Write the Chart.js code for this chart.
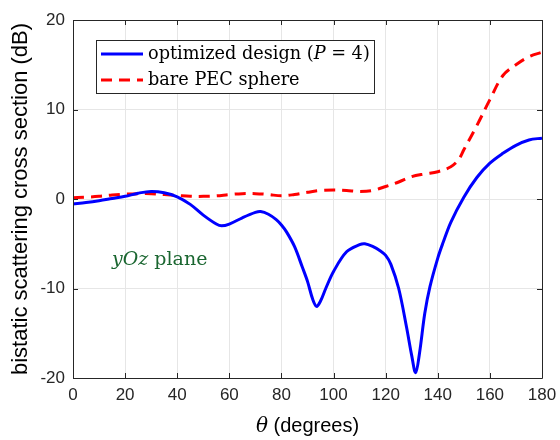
<!DOCTYPE html>
<html>
<head>
<meta charset="utf-8">
<script src="https://cdn.jsdelivr.net/npm/chart.js@4"></script>
<style>
  html, body { margin: 0; padding: 0; background: #ffffff; }
  #wrap { width: 560px; height: 440px; }
</style>
</head>
<body>
<div id="wrap"><canvas id="c" width="560" height="440"></canvas></div>
<script>
// ---- data ----
const thetaOptimized = [0,5,10,15,20,25,30,35,40,45,50,55,57,60,65,70,72,75,78,80,82,85,88,90,92,93.5,95,97,100,105,110,112,115,118,120,122,125,128,130,131.5,133,135,137,140,142,145,150,155,160,165,170,175,180];
const optimizedDesign = [-0.55,-0.4,-0.2,0.05,0.3,0.65,0.85,0.7,0.25,-0.6,-1.8,-2.8,-3.0,-2.8,-2.1,-1.5,-1.4,-1.7,-2.3,-2.9,-3.7,-5.3,-7.6,-9.2,-11.2,-12.0,-11.4,-10.0,-8.1,-5.9,-5.1,-5.0,-5.3,-5.8,-6.3,-7.3,-10.0,-14.3,-17.5,-19.4,-17.2,-12.8,-9.8,-6.6,-4.9,-2.6,0.2,2.4,4.0,5.1,6.0,6.6,6.8];
const thetaBare = [0,5,10,15,20,25,30,35,40,45,50,55,60,65,70,75,80,85,90,95,100,105,110,115,120,125,130,135,140,145,148,150,155,160,165,170,175,180];
const bareSphere = [0.15,0.2,0.3,0.45,0.55,0.6,0.6,0.5,0.4,0.3,0.3,0.35,0.5,0.6,0.6,0.5,0.35,0.5,0.75,0.95,1.0,0.95,0.85,0.95,1.4,1.9,2.5,2.8,3.05,3.6,4.4,5.5,8.2,11.1,13.8,15.0,15.9,16.4];
const xTicks = [0,20,40,60,80,100,120,140,160,180];
const yTicks = [-20,-10,0,10,20];
const seriesLabels = ['optimized design (P = 4)', 'bare PEC sphere'];
const annotationText = ['yOz', ' plane'];

const toXY = (xs, ys) => xs.map((x, i) => ({ x: x, y: ys[i] }));

const AX = '#262626';
const SANS = '"Liberation Sans", Arial, sans-serif';
const SERIF = '"DejaVu Serif", "Liberation Serif", serif';

const boxPlugin = {
  id: 'boxPlugin',
  afterDatasetsDraw(chart) {
    const { ctx, chartArea: a, scales } = chart;
    ctx.save();
    ctx.strokeStyle = AX;
    ctx.lineWidth = 1;
    ctx.beginPath();
    ctx.rect(Math.round(a.left) + 0.5, Math.round(a.top) + 0.5, Math.round(a.right - a.left), Math.round(a.bottom - a.top));
    ctx.stroke();
    // inner ticks
    const tl = 5;
    ctx.beginPath();
    xTicks.forEach(v => {
      const px = Math.round(scales.x.getPixelForValue(v)) + 0.5;
      ctx.moveTo(px, a.bottom); ctx.lineTo(px, a.bottom - tl);
      ctx.moveTo(px, a.top); ctx.lineTo(px, a.top + tl);
    });
    yTicks.forEach(v => {
      const py = Math.round(scales.y.getPixelForValue(v)) + 0.5;
      ctx.moveTo(a.left, py); ctx.lineTo(a.left + tl, py);
      ctx.moveTo(a.right, py); ctx.lineTo(a.right - tl, py);
    });
    ctx.stroke();

    // legend box
    const lx = 96.5, ly = 40.5, lw = 278, lh = 53;
    ctx.fillStyle = '#ffffff';
    ctx.fillRect(lx, ly, lw, lh);
    ctx.strokeStyle = AX;
    ctx.strokeRect(lx, ly, lw, lh);
    const ds = chart.data.datasets;
    const rows = [54, 80];
    ds.forEach((d, i) => {
      ctx.strokeStyle = d.borderColor;
      ctx.lineWidth = 3;
      ctx.setLineDash(d.borderDash || []);
      ctx.beginPath();
      ctx.moveTo(101, rows[i]); ctx.lineTo(143, rows[i]);
      ctx.stroke();
      ctx.setLineDash([]);
    });
    ctx.fillStyle = '#000000';
    ctx.textBaseline = 'middle';
    ctx.textAlign = 'left';
    const lab0 = ds[0].label;
    const pIdx = lab0.indexOf('P');
    const parts = [[lab0.slice(0, pIdx), 'normal'], ['P', 'italic'], [lab0.slice(pIdx + 1), 'normal']];
    let tx = 148;
    parts.forEach(([t, st]) => {
      ctx.font = st + ' 17.7px ' + SERIF;
      ctx.fillText(t, tx, rows[0]);
      tx += ctx.measureText(t).width;
    });
    ctx.font = 'normal 17.7px ' + SERIF;
    ctx.fillText(ds[1].label, 148, rows[1]);

    // yOz plane annotation
    ctx.fillStyle = '#1a6630';
    ctx.textBaseline = 'alphabetic';
    let ax = 112;
    ctx.font = 'italic 19px ' + SERIF;
    ctx.fillText(annotationText[0], ax, 265);
    ax += ctx.measureText(annotationText[0]).width;
    ctx.font = 'normal 19px ' + SERIF;
    ctx.fillText(annotationText[1], ax, 265);

    // x title with italic theta
    ctx.fillStyle = '#000000';
    const t1 = 'θ', t2 = ' (degrees)';
    ctx.font = 'italic 20px ' + SERIF;
    const w1 = ctx.measureText(t1).width;
    ctx.font = '20px ' + SANS;
    const w2 = ctx.measureText(t2).width;
    let sx = (a.left + a.right) / 2 - (w1 + w2) / 2;
    ctx.textBaseline = 'alphabetic';
    ctx.font = 'italic 20px ' + SERIF;
    ctx.fillText(t1, sx, 432);
    ctx.font = '20px ' + SANS;
    ctx.fillText(t2, sx + w1, 432);
    ctx.restore();
  }
};

new Chart(document.getElementById('c'), {
  type: 'line',
  data: {
    datasets: [
      {
        label: seriesLabels[0],
        data: toXY(thetaOptimized, optimizedDesign),
        borderColor: '#0000ff',
        borderWidth: 3,
        pointRadius: 0,
        tension: 0.35,
        fill: false
      },
      {
        label: seriesLabels[1],
        data: toXY(thetaBare, bareSphere),
        borderColor: '#ff0000',
        borderWidth: 3,
        borderDash: [11, 7],
        pointRadius: 0,
        tension: 0.35,
        fill: false
      }
    ]
  },
  options: {
    responsive: false,
    animation: false,
    events: [],
    layout: { padding: { top: 20, right: 18, left: 0, bottom: 0 } },
    plugins: { legend: { display: false }, tooltip: { enabled: false } },
    scales: {
      x: {
        type: 'linear',
        min: 0, max: 180,
        afterBuildTicks: s => { s.ticks = xTicks.map(v => ({ value: v })); },
        afterFit: s => { s.height = 62; s.paddingRight = 0; s.paddingLeft = 0; },
        grid: { color: '#e6e6e6', lineWidth: 1, drawTicks: false },
        border: { display: false },
        ticks: { color: '#262626', font: { family: SANS, size: 17 }, padding: 7, maxRotation: 0 },
        title: { display: false }
      },
      y: {
        type: 'linear',
        min: -20, max: 20,
        afterBuildTicks: s => { s.ticks = yTicks.map(v => ({ value: v })); },
        afterFit: s => { s.width = 73; s.paddingTop = 0; s.paddingBottom = 0; },
        grid: { color: '#e6e6e6', lineWidth: 1, drawTicks: false },
        border: { display: false },
        ticks: { color: '#262626', font: { family: SANS, size: 17 }, padding: 8 },
        title: { display: true, text: 'bistatic scattering cross section (dB)', color: '#000000', font: { family: SANS, size: 22 }, padding: { top: 8, bottom: 4 } }
      }
    }
  },
  plugins: [boxPlugin]
});
</script>
</body>
</html>
